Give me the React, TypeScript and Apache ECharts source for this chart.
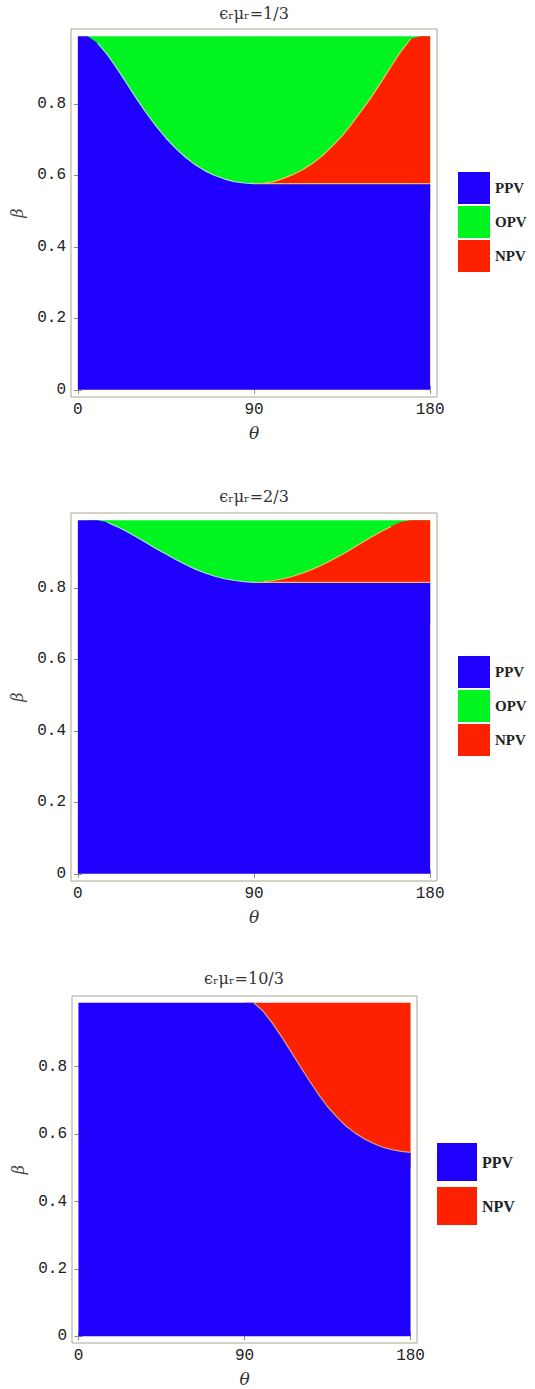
import React, { useEffect, useRef } from "react";
import * as echarts from "echarts";

// ---------- data ----------
const THETA_TICKS = [0, 90, 180];
const BETA_TICKS = [0, 0.2, 0.4, 0.6, 0.8];
const BETA_TOP = 0.99;

const THETA_LEFT = [0, 5, 10, 15, 20, 25, 30, 35, 40, 45, 50, 55, 60, 65, 70, 75, 80, 85, 90];
const THETA_RIGHT = [90, 95, 100, 105, 110, 115, 120, 125, 130, 135, 140, 145, 150, 155, 160, 165, 170, 175, 180];
const THETA_FULL = [0, 5, 10, 15, 20, 25, 30, 35, 40, 45, 50, 55, 60, 65, 70, 75, 80, 85, 90,
  95, 100, 105, 110, 115, 120, 125, 130, 135, 140, 145, 150, 155, 160, 165, 170, 175, 180];

// panel 1: εμ = 1/3
const PPV_EDGE_1 = [0.99, 0.99, 0.971, 0.939, 0.9, 0.858, 0.815, 0.775, 0.738, 0.705, 0.676, 0.651, 0.63, 0.613, 0.6, 0.59, 0.583, 0.579, 0.577];
const NPV_EDGE_1 = [0.577, 0.579, 0.583, 0.592, 0.603, 0.617, 0.634, 0.656, 0.682, 0.711, 0.745, 0.782, 0.82, 0.862, 0.905, 0.947, 0.982, 0.99, 0.99];
const PPV_FLAT_1 = 0.577;

// panel 2: εμ = 2/3
const PPV_EDGE_2 = [0.99, 0.99, 0.99, 0.984, 0.972, 0.958, 0.943, 0.927, 0.91, 0.895, 0.88, 0.866, 0.853, 0.842, 0.833, 0.826, 0.821, 0.818, 0.816];
const NPV_EDGE_2 = [0.816, 0.818, 0.821, 0.826, 0.833, 0.842, 0.853, 0.865, 0.879, 0.894, 0.91, 0.927, 0.943, 0.958, 0.972, 0.985, 0.99, 0.99, 0.99];
const PPV_FLAT_2 = 0.816;

// panel 3: εμ = 10/3
const PPV_EDGE_3 = [0.99, 0.99, 0.99, 0.99, 0.99, 0.99, 0.99, 0.99, 0.99, 0.99, 0.99, 0.99, 0.99, 0.99, 0.99, 0.99, 0.99, 0.99, 0.99,
  0.99, 0.966, 0.93, 0.89, 0.847, 0.803, 0.76, 0.719, 0.682, 0.651, 0.624, 0.603, 0.586, 0.572, 0.561, 0.554, 0.549, 0.546];

const TITLES = ["ϵᵣμᵣ=1/3", "ϵᵣμᵣ=2/3", "ϵᵣμᵣ=10/3"];
const LEGEND_THREE = ["PPV", "OPV", "NPV"];
const LEGEND_TWO = ["PPV", "NPV"];

// ---------- styles ----------
const BLUE = "#1e00fc";
const GREEN = "#00f520";
const RED = "#fd2100";
const EDGE_BG = "#a6e2c6";
const EDGE_RG = "#dccd5c";
const EDGE_BR = "#e0c25e";
const EDGE_BR3 = "#d6a67c";
const FRAME = "#a9a793";
const COLOR_OF: Record<string, string> = { PPV: BLUE, OPV: GREEN, NPV: RED };

const PANELS = [
  { grid: { left: 71, top: 29, width: 366, height: 368 }, titleX: 254, titleY: 5,
    legend: { left: 458, top: 172, w: 32, h: 32, gap: 2, font: 15 }, nameGap: 27 },
  { grid: { left: 71, top: 513, width: 366, height: 368 }, titleX: 254, titleY: 488,
    legend: { left: 458, top: 656, w: 32, h: 32, gap: 2, font: 15 }, nameGap: 27 },
  { grid: { left: 72, top: 996, width: 345, height: 347 }, titleX: 244, titleY: 970,
    legend: { left: 437, top: 1143, w: 40, h: 38, gap: 6, font: 16 }, nameGap: 27 },
];

const pairs = (xs: number[], ys: number[]) => xs.map((x, i) => [x, ys[i]]);

function areaSeries(name: string, data: number[][], color: string, gi: number, z: number, origin: any) {
  return {
    type: "line", name, xAxisIndex: gi * 2, yAxisIndex: gi * 2, data,
    symbol: "none", silent: true, z,
    lineStyle: { width: 0, opacity: 0 },
    itemStyle: { color },
    areaStyle: { color, opacity: 1, origin },
  };
}
function edgeSeries(name: string, data: number[][], color: string, gi: number, z: number) {
  return {
    type: "line", name, xAxisIndex: gi * 2, yAxisIndex: gi * 2, data,
    symbol: "none", silent: true, z,
    lineStyle: { width: 1.2, color },
  };
}

function buildOption() {
  const grid: any[] = [];
  const xAxis: any[] = [];
  const yAxis: any[] = [];
  const title: any[] = [];
  const legend: any[] = [];
  const series: any[] = [];

  PANELS.forEach((p, gi) => {
    grid.push({ ...p.grid, show: true, borderColor: FRAME, borderWidth: 1, backgroundColor: "#ffffff", containLabel: false });
    const tickStyle = { show: true, inside: true, length: 4, customValues: THETA_TICKS, lineStyle: { color: "#8e8c78", width: 1 } };
    xAxis.push({
      type: "value", gridIndex: gi, position: "bottom", min: -3.5, max: 183.5,
      axisLine: { show: false }, splitLine: { show: false },
      axisTick: tickStyle,
      axisLabel: { customValues: THETA_TICKS, fontFamily: "'Liberation Mono', monospace", fontSize: 16, color: "#222", margin: 5 },
      name: "θ", nameLocation: "middle", nameGap: p.nameGap,
      nameTextStyle: { fontFamily: "'DejaVu Serif', serif", fontStyle: "italic", fontSize: 17, color: "#333" },
    });
    xAxis.push({
      type: "value", gridIndex: gi, position: "top", min: -3.5, max: 183.5,
      axisLine: { show: false }, splitLine: { show: false },
      axisTick: tickStyle, axisLabel: { show: false, customValues: THETA_TICKS },
    });
    const yTick = { show: true, inside: true, length: 4, customValues: BETA_TICKS, lineStyle: { color: "#8e8c78", width: 1 } };
    yAxis.push({
      type: "value", gridIndex: gi, position: "left", min: -0.02, max: 1.01,
      axisLine: { show: false }, splitLine: { show: false },
      axisTick: yTick,
      axisLabel: { customValues: BETA_TICKS, fontFamily: "'Liberation Mono', monospace", fontSize: 16, color: "#222", margin: 5,
        formatter: (v: number) => (v === 0 ? "0" : String(v)) },
      name: "β", nameLocation: "middle", nameGap: 46, nameRotate: 90,
      nameTextStyle: { fontFamily: "'DejaVu Serif', serif", fontStyle: "italic", fontSize: 16, color: "#444" },
    });
    yAxis.push({
      type: "value", gridIndex: gi, position: "right", min: -0.02, max: 1.01,
      axisLine: { show: false }, splitLine: { show: false },
      axisTick: yTick, axisLabel: { show: false, customValues: BETA_TICKS },
    });
    title.push({
      text: TITLES[gi], left: p.titleX, top: p.titleY, textAlign: "center", padding: 0,
      textStyle: { fontFamily: "'DejaVu Serif', 'Liberation Serif', serif", fontSize: 16, fontWeight: "normal", color: "#333" },
    });
    const names = gi < 2 ? LEGEND_THREE : LEGEND_TWO;
    legend.push({
      orient: "vertical", left: p.legend.left, top: p.legend.top, padding: 0,
      itemWidth: p.legend.w, itemHeight: p.legend.h, itemGap: p.legend.gap, icon: "rect", selectedMode: false,
      data: names.map((n) => ({ name: n, icon: "rect", itemStyle: { color: COLOR_OF[n] } })),
      textStyle: { fontFamily: "'Liberation Serif', serif", fontWeight: "bold", fontSize: p.legend.font, color: "#222" },
    });
  });

  // panel 1
  const ppv1 = pairs(THETA_LEFT, PPV_EDGE_1).concat(THETA_RIGHT.slice(1).map((t) => [t, PPV_FLAT_1]));
  const npv1 = pairs(THETA_RIGHT, NPV_EDGE_1);
  series.push(areaSeries("OPV", [[5, BETA_TOP], [180, BETA_TOP]], GREEN, 0, 1, 0.5));
  series.push(areaSeries("NPV", npv1, RED, 0, 2, 0.5));
  series.push(areaSeries("PPV", ppv1, BLUE, 0, 3, "auto"));
  series.push(edgeSeries("e1a", pairs(THETA_LEFT, PPV_EDGE_1).filter((d) => d[1] < 0.985), EDGE_BG, 0, 4));
  series.push(edgeSeries("e1b", npv1.filter((d) => d[1] < 0.985 && d[0] >= 95), EDGE_RG, 0, 4));
  series.push(edgeSeries("e1c", THETA_RIGHT.map((t) => [t, PPV_FLAT_1]), EDGE_BR, 0, 4));

  // panel 2
  const ppv2 = pairs(THETA_LEFT, PPV_EDGE_2).concat(THETA_RIGHT.slice(1).map((t) => [t, PPV_FLAT_2]));
  const npv2 = pairs(THETA_RIGHT, NPV_EDGE_2);
  series.push(areaSeries("OPV", [[5, BETA_TOP], [180, BETA_TOP]], GREEN, 1, 1, 0.7));
  series.push(areaSeries("NPV", npv2, RED, 1, 2, 0.7));
  series.push(areaSeries("PPV", ppv2, BLUE, 1, 3, "auto"));
  series.push(edgeSeries("e2a", pairs(THETA_LEFT, PPV_EDGE_2).filter((d) => d[1] < 0.985), EDGE_BG, 1, 4));
  series.push(edgeSeries("e2b", npv2.filter((d) => d[1] < 0.985 && d[0] >= 95), EDGE_RG, 1, 4));
  series.push(edgeSeries("e2c", THETA_RIGHT.map((t) => [t, PPV_FLAT_2]), EDGE_BR, 1, 4));

  // panel 3
  const ppv3 = pairs(THETA_FULL, PPV_EDGE_3);
  series.push(areaSeries("NPV", [[90, BETA_TOP], [180, BETA_TOP]], RED, 2, 1, 0.5));
  series.push(areaSeries("PPV", ppv3, BLUE, 2, 3, "auto"));
  series.push(edgeSeries("e3a", ppv3.filter((d) => d[1] < 0.985 || d[0] === 95), EDGE_BR3, 2, 4));

  return { animation: false, backgroundColor: "#ffffff", grid, xAxis, yAxis, title, legend, series };
}

export default function App() {
  const ref = useRef<HTMLDivElement>(null);
  useEffect(() => {
    if (!ref.current) return;
    const chart = echarts.init(ref.current, undefined, { renderer: "svg" });
    chart.setOption(buildOption() as any);
    return () => chart.dispose();
  }, []);
  return <div ref={ref} style={{ position: "absolute", left: 0, top: 0, width: 535, height: 1389 }} />;
}
